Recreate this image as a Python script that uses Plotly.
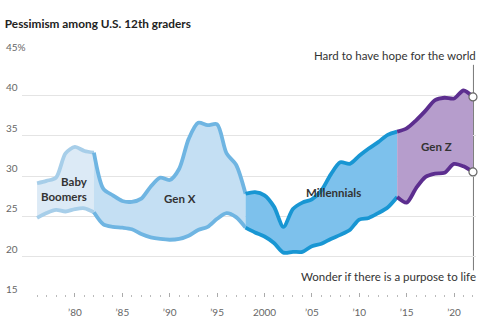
import plotly.graph_objects as go

# Share of 12th graders agreeing with each statement, by survey year (%)
years = list(range(1976, 2023))
hope_for_world = [
    29.1, 29.4, 29.8, 32.8, 33.6, 33.1, 32.9,            # 1976-1982
    28.4, 27.6, 26.9, 26.8, 27.2, 28.7, 29.8, 29.5,      # 1983-1990
    30.9, 34.6, 36.6, 36.3, 36.4, 32.8, 31.4, 27.8,      # 1991-1998
    28.0, 27.6, 26.2, 23.7, 25.9, 26.7, 27.1, 28.2,      # 1999-2006
    30.2, 31.7, 31.5, 32.5, 33.4, 34.2, 35.1, 35.5,      # 2007-2014
    35.9, 36.9, 38.1, 39.4, 39.7, 39.6, 40.6, 39.8,      # 2015-2022
]
purpose_to_life = [
    24.8, 25.4, 25.8, 25.6, 25.9, 26.0, 25.5,
    24.0, 23.7, 23.6, 23.4, 22.8, 22.4, 22.2, 22.1,
    22.2, 22.6, 23.3, 23.7, 24.7, 25.4, 24.9, 23.6,
    23.0, 22.5, 21.7, 20.5, 20.6, 20.6, 21.3, 21.6,
    22.2, 22.7, 23.3, 24.6, 24.8, 25.4, 26.1, 27.4,
    26.7, 28.5, 29.9, 30.3, 30.4, 31.5, 31.2, 30.5,
]

# Generations and the survey years they cover
gen_names = ["Baby<br>Boomers", "Gen X", "Millennials", "Gen Z"]
gen_start = [1976, 1982, 1998, 2014]
gen_end = [1982, 1998, 2014, 2022]
gen_fill = ["#dceaf6", "#c4dff3", "#7dc1ec", "#b69dcc"]
gen_line = ["#a7cee9", "#6fb5e2", "#1896d3", "#5c2e8f"]
label_x = [1981.6, 1991.1, 2007.3, 2018.2]
label_y = [28.4, 27.2, 28.0, 33.7]
label_align = ["right", "center", "center", "center"]

tick_years = [1980, 1985, 1990, 1995, 2000, 2005, 2010, 2015, 2020]
tick_text = ["’80", "’85", "’90", "’95", "2000", "’05", "’10", "’15", "’20"]
y_ticks = [15, 20, 25, 30, 35, 40, 45]
y_text = ["15", "20", "25", "30", "35", "40", "45%"]

FONT = "Lato"
fig = go.Figure()

for i in range(len(gen_names)):
    idx = [k for k, yr in enumerate(years) if gen_start[i] <= yr <= gen_end[i]]
    xs = [years[k] for k in idx]
    lo = [purpose_to_life[k] for k in idx]
    hi = [hope_for_world[k] for k in idx]
    fig.add_trace(go.Scatter(
        x=xs, y=lo, mode="lines",
        line=dict(color=gen_line[i], width=3.8, shape="spline", smoothing=0.8),
        hoverinfo="skip", showlegend=False))
    fig.add_trace(go.Scatter(
        x=xs, y=hi, mode="lines", fill="tonexty", fillcolor=gen_fill[i],
        line=dict(color=gen_line[i], width=3.8, shape="spline", smoothing=0.8),
        hoverinfo="skip", showlegend=False))
    fig.add_annotation(
        x=label_x[i], y=label_y[i], text="<b>" + gen_names[i] + "</b>",
        showarrow=False, align=label_align[i], yanchor="middle",
        xanchor="right" if label_align[i] == "right" else "center",
        font=dict(family=FONT, size=11.5, color="#333333"))

# End-point markers
fig.add_trace(go.Scatter(
    x=[years[-1], years[-1]], y=[hope_for_world[-1], purpose_to_life[-1]],
    mode="markers", cliponaxis=False,
    marker=dict(symbol="circle", size=8, color="white",
                line=dict(color="#666666", width=1.2)),
    hoverinfo="skip", showlegend=False))

# Leader line joining the two series labels
fig.add_shape(type="line", x0=years[-1] + 0.05, x1=years[-1] + 0.05,
              y0=43.8, y1=18.3, xref="x", yref="y",
              line=dict(color="#777777", width=1), layer="below")

fig.add_annotation(x=1, xref="paper", y=45, yref="y", xshift=3,
                   text="Hard to have hope for the world",
                   showarrow=False, xanchor="right", yanchor="middle",
                   bgcolor="white", borderpad=2,
                   font=dict(family=FONT, size=11.5, color="#333333"))
fig.add_annotation(x=1, xref="paper", y=17.5, yref="y", xshift=2,
                   text="Wonder if there is a purpose to life",
                   showarrow=False, xanchor="right", yanchor="middle",
                   font=dict(family=FONT, size=11.5, color="#333333"))

# Y labels sit just above their gridlines
for v, t in zip(y_ticks, y_text):
    fig.add_annotation(x=0, y=v, xref="paper", yref="y", text=t, showarrow=False,
                       xanchor="left", yanchor="middle", xshift=-18, yshift=8,
                       font=dict(family=FONT, size=10, color="#666666"))

fig.update_layout(
    width=485, height=330,
    margin=dict(l=22, r=9, t=55, b=33),
    paper_bgcolor="white", plot_bgcolor="white",
    title=dict(text="<b>Pessimism among U.S. 12th graders</b>",
               x=0.01, xanchor="left", y=1 - 24 / 330, yanchor="middle",
               font=dict(family=FONT, size=11.8, color="#222222")),
    xaxis=dict(range=[1974.41, 2022.32], showgrid=False, zeroline=False,
               showline=False, tickmode="array", tickvals=tick_years,
               ticktext=tick_text, ticks="inside", ticklen=4, tickcolor="#aaaaaa",
               ticklabelstandoff=8,
               tickfont=dict(family=FONT, size=10, color="#666666"),
               minor=dict(tickmode="array", tickvals=years, ticks="inside",
                          ticklen=2, tickcolor="#bbbbbb", showgrid=False)),
    yaxis=dict(range=[15, 45], tickvals=y_ticks, showticklabels=False,
               showgrid=True, gridcolor="#e4e4e4", gridwidth=1, zeroline=False,
               showline=False),
)

fig.write_html("out.html")
